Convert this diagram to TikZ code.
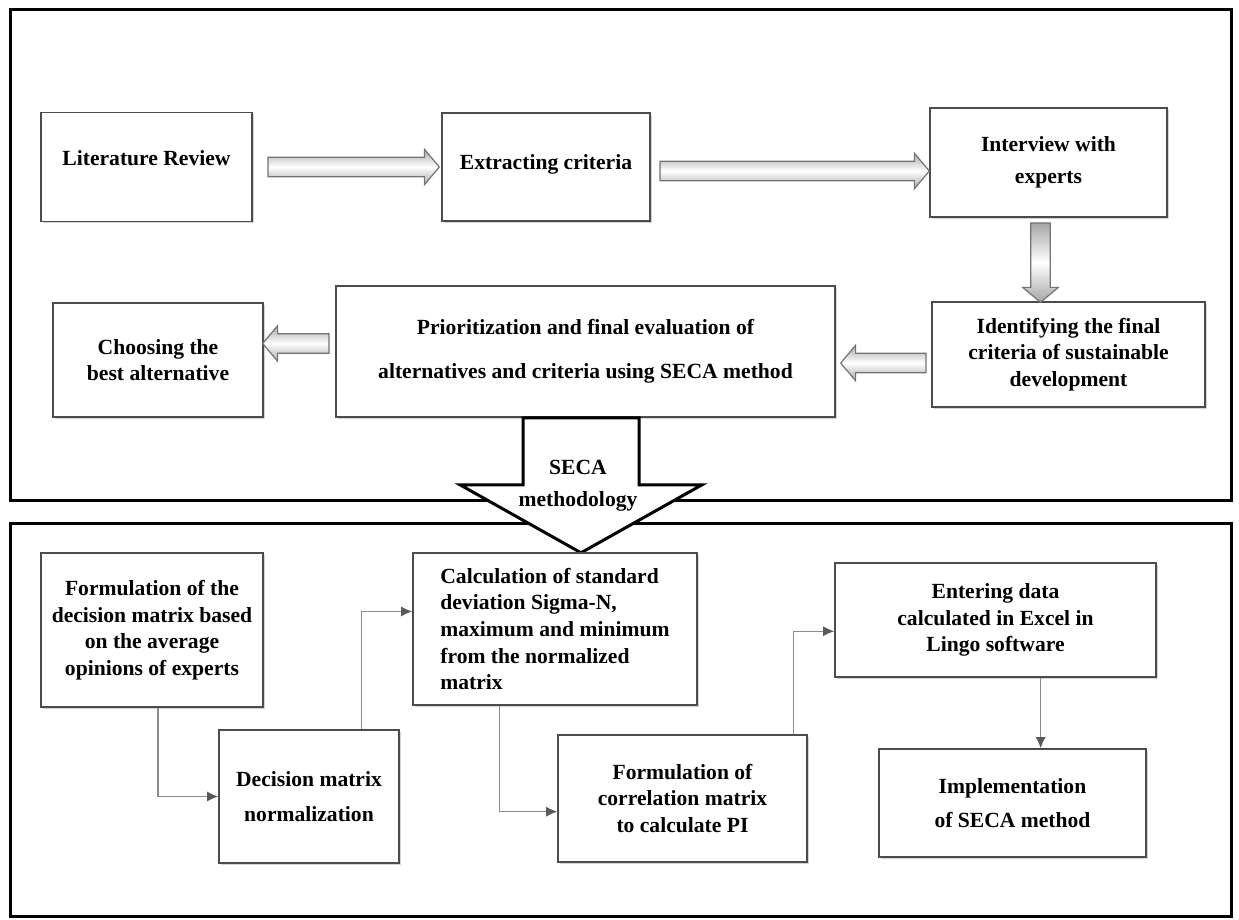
\documentclass[tikz,border=0pt]{standalone}
\usepackage{fontspec}
\setmainfont{Liberation Serif}
\usetikzlibrary{shapes.arrows,shadows,calc,arrows.meta}

\tikzset{
	stage/.style={draw=black!70, line width=0.8pt, fill=white, align=center, inner sep=2pt,
		font=\bfseries\fontsize{10.8}{13.3}\selectfont,
		drop shadow={shadow xshift=0.8pt, shadow yshift=-0.9pt, opacity=0.35, fill=black!50}},
	boxsize/.style 2 args={minimum width=#1*0.5pt, minimum height=#2*0.5pt},
	panel/.style={draw=black, line width=1.5pt},
	bigarrow/.style={single arrow, draw=black!55, line width=0.6pt, inner sep=0pt, inner ysep=4.6pt,
		single arrow head extend=4pt, single arrow head indent=0pt, single arrow tip angle=100,
		top color=black!35, bottom color=black!35, middle color=white},
	seca/.style={draw=black, line width=1.5pt, fill=white, line join=miter},
	conn/.style={draw=black!45, line width=0.6pt, -{Latex[length=5.5pt,width=5pt,color=black!65]}}
}

% fat grey arrow between two points
\newcommand{\blockarrow}[2]{%
	\path let \p1=(#1), \p2=(#2),
		\n1={veclen(\x2-\x1,\y2-\y1)}, \n2={atan2(\y2-\y1,\x2-\x1)} in
		node[bigarrow, minimum height=\n1, rotate=\n2] at ($(\p1)!0.5!(\p2)$) {};}

\begin{document}
\begin{tikzpicture}[x=0.5pt,y=-0.5pt]
	\useasboundingbox (0,0) rectangle (1239,920);
	% Panels
	\draw[panel] (10,10) rectangle (1231,500);
	\draw[panel] (10,523) rectangle (1231,916);
	% Upper stages
	\node[stage, boxsize={211}{109}, text depth=9pt] (lit) at (146.5,167) {Literature Review};
	\node[stage, boxsize={208}{108}, text depth=5pt] (ext) at (546,167) {Extracting criteria};
	\node[stage, boxsize={237}{109}] (inter) at (1048.5,162.5) {Interview with\\[3pt] experts};
	\node[stage, boxsize={273}{105}] (ident) at (1068.5,354.5) {Identifying the final\\ criteria of sustainable\\ development};
	\node[stage, boxsize={499}{131}] (prior) at (585.5,351.5) {Prioritization and final evaluation of\\[8.5pt] alternatives and criteria using SECA method};
	\node[stage, boxsize={210}{114}] (choose) at (158,360) {Choosing the\\ best alternative};
	% Fat arrows
	\blockarrow{$(lit.east)+(11,0)$}{$(ext.west)+(-6,0)$}
	\blockarrow{$(ext.east)+(5,4)$}{$(inter.west |- ext.east)+(-4,4)$}
	\blockarrow{$(inter.south)+(-8,1)$}{$(inter.south |- ident.north)+(-8,-3)$}
	\blockarrow{$(ident.west)+(-1,8.5)$}{$(prior.east |- ident.west)+(9,8.5)$}
	\blockarrow{$(prior.west)+(-2,-8)$}{$(choose.east |- prior.west)+(3,-8)$}
	% SECA arrow
	\draw[seca] ($(prior.south)+(-62.5,0)$) -- ++(0,67) -- ++(-63,0) -- ++(121,68)
		-- ++(121,-68) -- ++(-63,0) -- ++(0,-67) -- cycle;
	\node[font=\bfseries\fontsize{10.8}{13.3}\selectfont, align=center] (secatxt) at (578,486) {SECA\\[2.5pt] methodology};
	% Lower stages
	\node[stage, boxsize={222}{154}] (form) at (152,630) {Formulation of the\\ decision matrix based\\ on the average\\ opinions of experts};
	\node[stage, boxsize={180}{133}] (norm) at (309,796.5) {Decision matrix\\[4pt] normalization};
	\node[stage, boxsize={284}{152}, align=left] (stdev) at (555,629) {Calculation of standard\\ deviation Sigma-N,\\ maximum and minimum\\ from the normalized\\ matrix};
	\node[stage, boxsize={249}{127}] (corr) at (682.5,798.5) {Formulation of\\ correlation matrix\\ to calculate PI};
	\node[stage, boxsize={321}{114}] (lingo) at (995.5,620) {Entering data\\ calculated in Excel in\\ Lingo software};
	\node[stage, boxsize={267}{108}] (impl) at (1012.5,803) {Implementation\\[4pt] of SECA method};
	% Thin connectors
	\draw[conn] ($(form.south)+(6,0)$) |- (norm.west);
	\draw[conn] (norm.52.5) |- (stdev.173);
	\draw[conn] (stdev.234) |- (corr.186);
	\draw[conn] (corr.30) |- (lingo.184);
	\draw[conn] (lingo.-52) -- (lingo.-52 |- impl.north);
\end{tikzpicture}
\end{document}
